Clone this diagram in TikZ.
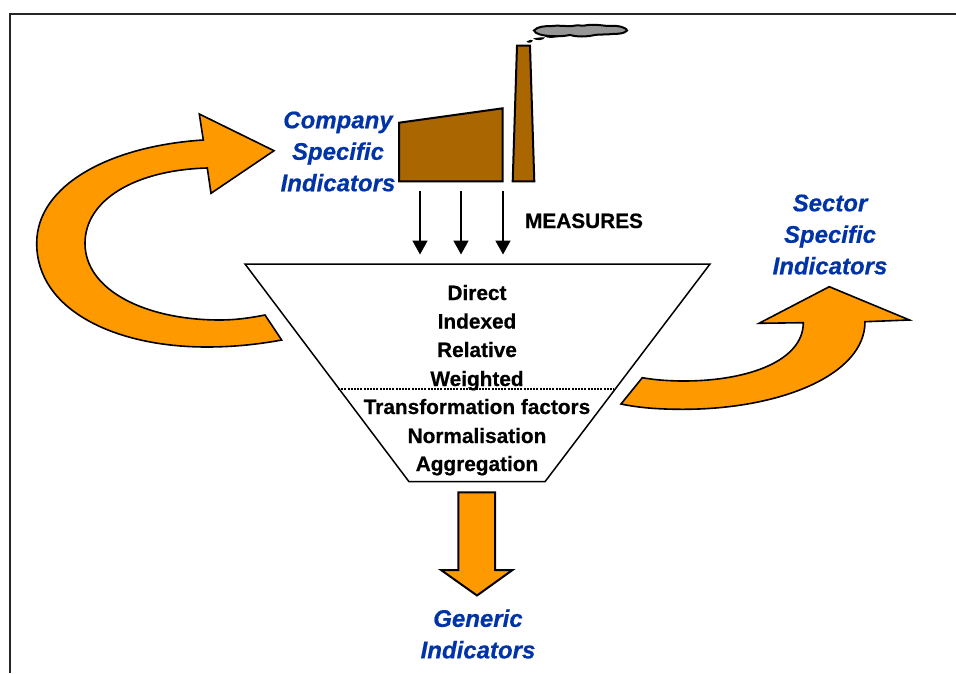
\documentclass[tikz,border=0pt]{standalone}
\usepackage{fontspec}
\setmainfont[BoldFeatures={FakeBold=0.6},BoldItalicFeatures={FakeBold=0.6}]{Liberation Sans}
\usetikzlibrary{arrows.meta}
\definecolor{flow}{HTML}{FF9900}
\definecolor{brick}{HTML}{AA6600}
\definecolor{smoke}{HTML}{969696}
\definecolor{lab}{HTML}{0033A8}
\tikzset{
 x=1pt,y=-1pt,
 orange shape/.style={draw=black,line width=1.6pt,fill=flow,line join=miter},
 factory/.style={draw=black,line width=2pt,fill=brick,line join=miter},
 bluelab/.style={font=\fontsize{24}{31.5}\selectfont\bfseries\itshape,text=lab,align=center,inner sep=0pt},
 steplab/.style={font=\fontsize{20.8}{20}\selectfont\bfseries,text=black,inner sep=0pt,anchor=base},
 measure arrow/.style={draw=black,line width=1.8pt,-{Triangle[length=14pt,width=15pt]},shorten >=-1pt},
}
\begin{document}
\begin{tikzpicture}
\useasboundingbox (0,0) rectangle (956,673);
% frame
\draw[line width=2pt,draw=black!85] (9.5,673) -- (9.5,13.5) -- (956,13.5);
% left arrow
\path[orange shape] (203.3,140) .. controls (110,146) and (36.7,185) .. (36.7,243.3)
  .. controls (36.7,310) and (115,347) .. (206.7,347)
  .. controls (235,347) and (260,344) .. (281.7,340)
  -- (265,315)
  .. controls (250,318) and (235,320) .. (220,320)
  .. controls (145,320) and (85,290) .. (85,243.3)
  .. controls (85,200) and (135,170) .. (207.3,168)
  -- (211,193.3) -- (274,150.7) -- (199.3,114) -- cycle;
% right arrow
\path[orange shape] (642.3,377.7) .. controls (655,380) and (670,381) .. (683.3,381)
  .. controls (750,381) and (803.3,360) .. (803.3,322.7)
  -- (759,323.3) -- (829.3,286.7) -- (909.5,320) -- (865,321.7)
  .. controls (865,375) and (780,409.3) .. (683,409.3)
  .. controls (660,409.3) and (640,408) .. (621,404) -- cycle;
% funnel
\path[draw=black,line width=1.5pt,fill=white] (245,264) -- (710,264) -- (545,481.7) -- (409,481.7) -- cycle;
\coordinate (dotL) at (338,388.6);
\coordinate (dotR) at (614,388.6);
\draw[line width=2pt,dash pattern=on 2pt off 1.2pt] (dotL) -- (dotR);
% down arrow
\path[orange shape,line width=2pt] (458.3,492.3) -- (495,492.3) -- (495,570) -- (512.5,570) -- (477,595.5) -- (441,570) -- (458.3,570) -- cycle;
% factory
\path[factory] (399,122.7) -- (502.7,108.3) -- (502.7,181.3) -- (399,181.3) -- cycle;
\path[factory] (512.7,181.3) -- (534.3,181.3) -- (530,45.7) -- (517,45.7) -- cycle;
% smoke
\path[draw=black,line width=2pt,fill=smoke] (534,30.5) .. controls (537,26.5) and (545,26) .. (552,26)
 .. controls (558,25) and (565,26.5) .. (572,26) .. controls (578,24.5) and (583,26.5) .. (588,25) .. controls (598,24) and (606,26.5) .. (612,26) .. controls (618,25.5) and (622,27) .. (623,27.5)
 .. controls (626,28.5) and (627.5,30) .. (627,30.5) .. controls (625,33.5) and (618,34) .. (612,34)
 .. controls (605,35) and (600,34) .. (595,35) .. controls (585,37) and (578,37) .. (570,35) .. controls (560,37) and (548,36.5) .. (540,34.5) .. controls (537,34) and (534.5,32) .. (534,30.5) -- cycle;
\fill[black] (526.5,41.5) .. controls (529,39.5) and (532,39.5) .. (533,40.5) .. controls (532,43) and (528,43.5) .. (526.5,41.5) -- cycle;
\fill[black] (533,38.5) .. controls (538,37.5) and (543,37) .. (545,37.5) .. controls (544,40.5) and (536,41) .. (533,38.5) -- cycle;
\fill[black] (544,36) .. controls (549,35) and (555,35) .. (558,35.5) .. controls (556,38.5) and (548,39) .. (544,36) -- cycle;
% measure arrows
\coordinate (a1s) at (420,190.5); \coordinate (a1e) at (420,253.5);
\coordinate (a2s) at (461,190.5); \coordinate (a2e) at (461,253.5);
\coordinate (a3s) at (503,190.5); \coordinate (a3e) at (503,253.5);
\draw[measure arrow] (a1s) -- (a1e);
\draw[measure arrow] (a2s) -- (a2e);
\draw[measure arrow] (a3s) -- (a3e);
% labels
\node[steplab,anchor=base] (measures) at (584,228) {MEASURES};
\node[bluelab] (company) at (338,151.5) {Company\\Specific\\Indicators};
\node[bluelab] (sector) at (830,234.5) {Sector\\Specific\\Indicators};
\node[bluelab] (generic) at (478,634) {Generic\\Indicators};
\node[steplab] (l1) at (477,300) {Direct};
\node[steplab] (l2) at (477,328.5) {Indexed};
\node[steplab] (l3) at (477,357) {Relative};
\node[steplab] (l4) at (477,386) {Weighted};
\node[steplab] (l5) at (477,414) {Transformation factors};
\node[steplab] (l6) at (477,443) {Normalisation};
\node[steplab] (l7) at (477,471) {Aggregation};
\end{tikzpicture}
\end{document}
